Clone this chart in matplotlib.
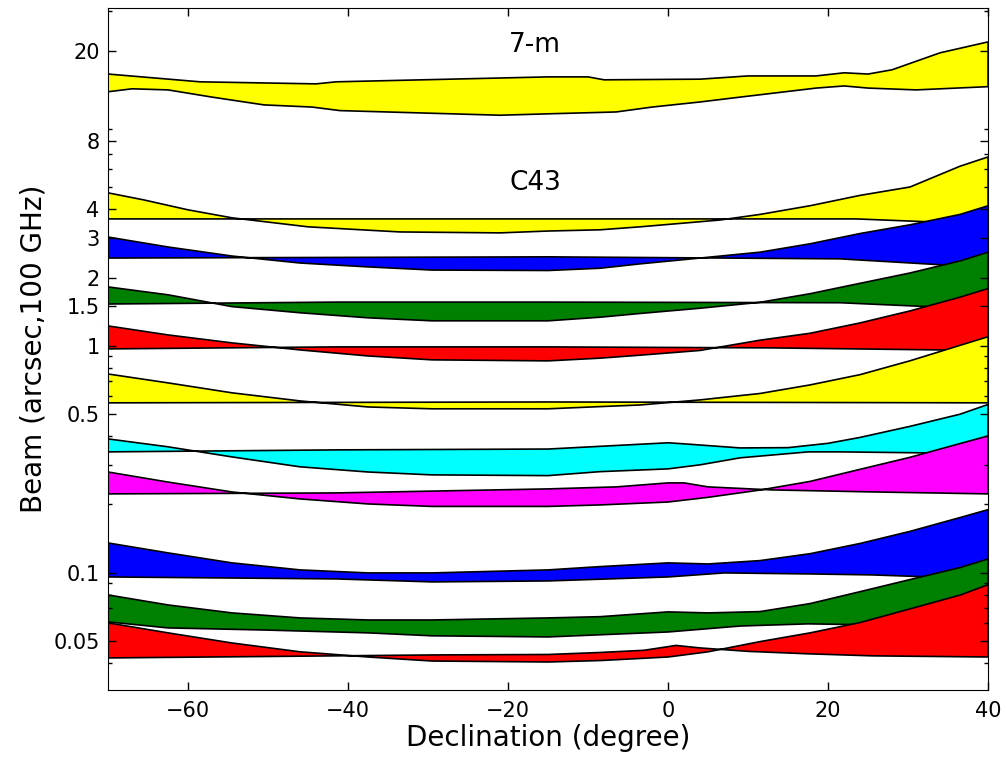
import matplotlib
matplotlib.use("Agg")
import matplotlib.pyplot as plt
from matplotlib.ticker import FixedLocator, FixedFormatter, LogLocator, NullFormatter

# 7-m array band
m7_hi_dec = [-70, -58.5, -44, -41.5, -15, -10, -8, 4, 10, 18.5, 22, 25, 28, 34, 40]
m7_hi = [15.8, 14.6, 14.3, 14.6, 15.35, 15.35, 14.9, 15.0, 15.5, 15.5, 16.0, 15.8, 16.5, 19.6, 21.9]
m7_lo_dec = [-70, -67, -62.5, -57, -50.5, -44.5, -41, -21, -15, -6.5, -2, 4, 9, 18.5, 22, 25, 31, 40]
m7_lo = [13.2, 13.6, 13.45, 12.5, 11.55, 11.3, 10.9, 10.4, 10.55, 10.75, 11.3, 11.9, 12.5, 13.7, 14.0, 13.7, 13.45, 13.9]

# C43 configuration: each band = flatter edge (a) + crossing edge (b)
dec_up = [-70, -62.5, -54.5, -46, -37.5, -29.5, -15, -8.5, -3.5, 4, 11.5, 17.75, 24, 30.25, 36.5, 40]
dec_lo = [-70, -62.5, -54.5, -46, -37.5, -29.5, -15, -8.5, 0, 5, 11.5, 17.75, 24, 30.25, 36.5, 40]

c1_a_dec = [-70, -30, 0, 23.5, 33, 40]
c1_a = [3.63, 3.63, 3.63, 3.63, 3.52, 3.35]
c1_b_dec = [-70, -65.5, -60, -54.5, -45, -33.5, -21, -15, -8.5, -3.5, 6.5, 11.5, 17.75, 24, 30.25, 36.5, 40]
c1_b = [4.73, 4.40, 3.98, 3.67, 3.35, 3.18, 3.15, 3.21, 3.25, 3.35, 3.59, 3.80, 4.15, 4.61, 5.02, 6.20, 6.81]

c2_a_dec = [-70, -15, 21.5, 34, 40]
c2_a = [2.44, 2.47, 2.42, 2.28, 2.21]
c2_b = [3.02, 2.73, 2.49, 2.32, 2.23, 2.16, 2.15, 2.20, 2.30, 2.44, 2.59, 2.82, 3.13, 3.42, 3.80, 4.15]

c3_a_dec = [-70, -41.5, -15, 21.5, 32.5, 40]
c3_a = [1.53, 1.56, 1.56, 1.55, 1.49, 1.44]
c3_b = [1.82, 1.68, 1.49, 1.40, 1.33, 1.29, 1.29, 1.338, 1.39, 1.466, 1.557, 1.699, 1.888, 2.097, 2.37, 2.59]

c4_a_dec = [-70, -41.5, -15, 13, 34, 40]
c4_a = [0.97, 0.99, 0.99, 0.98, 0.96, 0.95]
c4_b = [1.225, 1.118, 1.031, 0.960, 0.903, 0.868, 0.859, 0.883, 0.91, 0.955, 1.06, 1.137, 1.263, 1.427, 1.641, 1.791]

c5_a_dec = [-70, -15, 40]
c5_a = [0.561, 0.566, 0.561]
c5_b = [0.752, 0.687, 0.621, 0.572, 0.538, 0.528, 0.528, 0.540, 0.549, 0.578, 0.617, 0.673, 0.747, 0.860, 1.006, 1.098]

c6_a_dec = [-70, -41.5, -15, 0, 2, 9, 15, 20, 24, 30.25, 36.5, 40]
c6_a = [0.341, 0.348, 0.351, 0.374, 0.370, 0.355, 0.356, 0.372, 0.395, 0.442, 0.500, 0.552]
c6_b_dec = [-70, -62.5, -54.5, -46, -37.5, -29.5, -15, -8.5, 0, 4, 9, 17.5, 21.5, 34, 40]
c6_b = [0.389, 0.359, 0.324, 0.293, 0.278, 0.270, 0.268, 0.279, 0.287, 0.299, 0.321, 0.341, 0.341, 0.337, 0.337]

c7_a_dec = [-70, -41.5, -15, -6.5, 0, 2, 5, 13, 25.5, 40]
c7_a = [0.2226, 0.2248, 0.2342, 0.239, 0.2489, 0.2489, 0.239, 0.2318, 0.2271, 0.2226]
c7_b = [0.278, 0.251, 0.227, 0.2115, 0.201, 0.196, 0.196, 0.199, 0.205, 0.215, 0.2315, 0.2527, 0.2857, 0.3228, 0.3712, 0.401]

c8_a_dec = [-70, -41.5, -29.5, -15, 0, 7, 17.5, 25.5, 40]
c8_a = [0.0958, 0.0939, 0.0911, 0.0920, 0.0958, 0.0998, 0.0988, 0.0978, 0.0939]
c8_b = [0.1353, 0.1223, 0.1105, 0.1029, 0.0998, 0.0998, 0.1029, 0.1064, 0.1105, 0.1093, 0.1131, 0.1213, 0.1346, 0.1522, 0.1751, 0.1897]

c9_a_dec = [-70, -62.5, -50.5, -37.5, -29.5, -15, 0, 9, 17.5, 25.5, 40]
c9_a = [0.0607, 0.0571, 0.0559, 0.0543, 0.0527, 0.0521, 0.0548, 0.0582, 0.0595, 0.0589, 0.0577]
c9_b = [0.0798, 0.0721, 0.0665, 0.0632, 0.0619, 0.0619, 0.0632, 0.0640, 0.0672, 0.0665, 0.0674, 0.0731, 0.0825, 0.0933, 0.1054, 0.1150]

c10_a_dec = [-70, -41.5, -29.5, -15, -8.5, -3, 1, 4, 10, 17.5, 25.5, 40]
c10_a = [0.0421, 0.0430, 0.0434, 0.0436, 0.0445, 0.0455, 0.0478, 0.0466, 0.0450, 0.0439, 0.0430, 0.0425]
c10_b = [0.0601, 0.0543, 0.0490, 0.0448, 0.0425, 0.0408, 0.0404, 0.0410, 0.0425, 0.0448, 0.0497, 0.0543, 0.0603, 0.0693, 0.0797, 0.0886]

bands = [
    (m7_hi_dec, m7_hi, m7_lo_dec, m7_lo, "yellow"),
    (c1_a_dec, c1_a, c1_b_dec, c1_b, "yellow"),
    (c2_a_dec, c2_a, dec_up, c2_b, "blue"),
    (c3_a_dec, c3_a, dec_up, c3_b, "green"),
    (c4_a_dec, c4_a, dec_up, c4_b, "red"),
    (c5_a_dec, c5_a, dec_up, c5_b, "yellow"),
    (c6_a_dec, c6_a, c6_b_dec, c6_b, "cyan"),
    (c7_a_dec, c7_a, dec_lo, c7_b, "magenta"),
    (c8_a_dec, c8_a, dec_lo, c8_b, "blue"),
    (c9_a_dec, c9_a, dec_lo, c9_b, "green"),
    (c10_a_dec, c10_a, dec_lo, c10_b, "red"),
]

ytick_vals = [0.05, 0.1, 0.5, 1, 1.5, 2, 3, 4, 8, 20]
ytick_labels = ["0.05", "0.1", "0.5", "1", "1.5", "2", "3", "4", "8", "20"]

fig = plt.figure(figsize=(10.06, 7.59), dpi=100)
ax = fig.add_axes([0.1074, 0.0909, 0.8748, 0.8986])

for xa, ya, xb, yb, col in bands:
    # closed outline: edge a forward, edge b back
    px = list(xa) + list(xb)[::-1]
    py = list(ya) + list(yb)[::-1]
    ax.fill(px, py, facecolor=col, edgecolor="black", linewidth=1.2)

ax.set_yscale("log")
ax.set_xlim(-70, 40)
ax.set_ylim(0.0304, 30.9)

ax.yaxis.set_major_locator(FixedLocator(ytick_vals))
ax.yaxis.set_major_formatter(FixedFormatter(ytick_labels))
ax.yaxis.set_minor_locator(LogLocator(base=10, subs=range(2, 10)))
ax.yaxis.set_minor_formatter(NullFormatter())
ax.set_xticks([-60, -40, -20, 0, 20, 40])

ax.tick_params(which="both", direction="in", top=True, right=True, labelsize=15)
ax.tick_params(which="major", length=6, width=1)
ax.tick_params(which="minor", length=3, width=1)
ax.tick_params(axis="x", pad=8)
ax.tick_params(axis="y", pad=6)

ax.text(-16.6, 21.2, "7-m", fontsize=19, ha="center", va="center")
ax.text(-16.6, 5.23, "C43", fontsize=19, ha="center", va="center")

ax.set_xlabel("Declination (degree)", fontsize=20, labelpad=2)
ax.set_ylabel("Beam (arcsec,100 GHz)", fontsize=20, labelpad=4)

fig.savefig("out.png", dpi=100)
